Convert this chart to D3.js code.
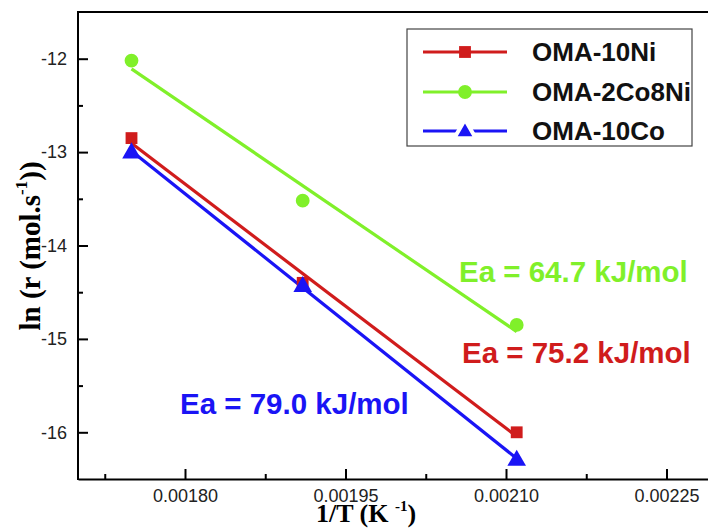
<!DOCTYPE html>
<html><head><meta charset="utf-8">
<script src="https://cdn.jsdelivr.net/npm/d3@7"></script>
<style>
body{margin:0;background:#fff;}
svg{display:block;}
</style></head>
<body>
<svg id="chart" width="708" height="530"></svg>
<script>
// ---- data ----
const seriesNames = ["OMA-10Ni", "OMA-2Co8Ni", "OMA-10Co"];
const invT = [0.00175, 0.00191, 0.00211];
const lnR_10Ni = [-12.85, -14.40, -16.00];
const lnR_2Co8Ni = [-12.02, -13.52, -14.85];
const lnR_10Co = [-13.00, -14.43, -16.29];
const eaLabels = ["Ea = 75.2 kJ/mol", "Ea = 64.7 kJ/mol", "Ea = 79.0 kJ/mol"];
const xMajorTicks = [0.00180, 0.00195, 0.00210, 0.00225];
const xMinorTicks = [0.001725, 0.001875, 0.002025, 0.002175];
const yMajorTicks = [-12, -13, -14, -15, -16];
const yMinorTicks = [-12.5, -13.5, -14.5, -15.5];

const colors = ["#d01c1c", "#80f02a", "#1a14f5"];
const symbols = [d3.symbolSquare, d3.symbolCircle, d3.symbolTriangle];
const symSizes = [140, 150, 150];
const allY = [lnR_10Ni, lnR_2Co8Ni, lnR_10Co];

const svg = d3.select("#chart");
const L = 78, T = 12, B = 479;
const x = d3.scaleLinear().domain([0.0017, 0.0023]).range([L, 720]);
const y = d3.scaleLinear().domain([-16.5, -11.5]).range([B, T]);

// axes
const fmtX = d3.format(".5f");
const fmtY = v => String(v);
const gx = svg.append("g").attr("transform", `translate(0,${B})`)
  .call(d3.axisBottom(x).tickValues(xMajorTicks).tickFormat(fmtX).tickSizeInner(-10).tickSizeOuter(0).tickPadding(10));
gx.append("g").call(d3.axisBottom(x).tickValues(xMinorTicks).tickFormat("").tickSizeInner(-5).tickSizeOuter(0))
  .select(".domain").remove();
const gy = svg.append("g").attr("transform", `translate(${L},0)`)
  .call(d3.axisLeft(y).tickValues(yMajorTicks).tickFormat(fmtY).tickSizeInner(-10).tickSizeOuter(0).tickPadding(11));
gy.append("g").call(d3.axisLeft(y).tickValues(yMinorTicks).tickFormat("").tickSizeInner(-5).tickSizeOuter(0))
  .select(".domain").remove();
[gx, gy].forEach(g => {
  g.selectAll(".domain, line").attr("stroke", "#000").attr("stroke-width", 2);
  g.selectAll("text").attr("font-family", "Liberation Sans, Arial, sans-serif").attr("font-size", 18).attr("fill", "#222");
});
svg.append("line").attr("x1", L - 1).attr("x2", 720).attr("y1", T).attr("y2", T).attr("stroke", "#000").attr("stroke-width", 2);
gy.select(".domain").attr("d", `M0,${T}V${B + 1}`);

// fits and points
allY.forEach((ys, i) => {
  const n = invT.length;
  const mx = d3.mean(invT), my = d3.mean(ys);
  let sxy = 0, sxx = 0;
  for (let k = 0; k < n; k++) { sxy += (invT[k] - mx) * (ys[k] - my); sxx += (invT[k] - mx) ** 2; }
  const slope = sxy / sxx, icpt = my - slope * mx;
  const x0 = d3.min(invT), x1 = d3.max(invT);
  svg.append("line")
    .attr("x1", x(x0)).attr("y1", y(slope * x0 + icpt))
    .attr("x2", x(x1)).attr("y2", y(slope * x1 + icpt))
    .attr("stroke", colors[i]).attr("stroke-width", 3.2);
});
allY.forEach((ys, i) => {
  svg.append("g").selectAll("path").data(invT.map((v, k) => [v, ys[k]])).join("path")
    .attr("transform", d => `translate(${x(d[0])},${y(d[1]) + (i === 2 ? 1 : 0)})`)
    .attr("d", d3.symbol(symbols[i], symSizes[i]))
    .attr("fill", colors[i]);
});

// Ea annotations
const eaPos = [[462, 363], [459, 282], [180, 414]];
eaLabels.forEach((t, i) => {
  svg.append("text").attr("x", eaPos[i][0]).attr("y", eaPos[i][1]).text(t)
    .attr("font-family", "Liberation Sans, Arial, sans-serif").attr("font-weight", "bold")
    .attr("font-size", 29.5).attr("fill", colors[i]);
});

// legend
const lg = svg.append("g");
lg.append("rect").attr("x", 407).attr("y", 29).attr("width", 285).attr("height", 117)
  .attr("fill", "#fff").attr("stroke", "#444").attr("stroke-width", 1.2);
const legY = [52, 92, 131];
seriesNames.forEach((s, i) => {
  lg.append("line").attr("x1", 423).attr("x2", 507).attr("y1", legY[i]).attr("y2", legY[i])
    .attr("stroke", colors[i]).attr("stroke-width", 3.2);
  lg.append("path").attr("transform", `translate(465,${legY[i] + (i === 2 ? 1 : 0)})`)
    .attr("d", d3.symbol(symbols[i], i === 2 ? 200 : symSizes[i])).attr("fill", colors[i])
    .attr("stroke", "#fff").attr("stroke-width", i === 2 ? 4 : 0);
  lg.append("text").attr("x", 532).attr("y", legY[i] + 9).text(s)
    .attr("font-family", "Liberation Sans, Arial, sans-serif").attr("font-weight", "bold")
    .attr("font-size", 26).attr("fill", "#111");
});

// axis titles
const serif = "Liberation Serif, Times New Roman, serif";
const xt = svg.append("text").attr("x", 366).attr("y", 522).attr("text-anchor", "middle")
  .attr("font-family", serif).attr("font-weight", "bold").attr("font-size", 26);
xt.append("tspan").text("1/T (K ");
xt.append("tspan").text("-1").attr("font-size", 15).attr("dy", -11);
xt.append("tspan").text(")").attr("dy", 11);

const yt = svg.append("text").attr("transform", "translate(40,246) rotate(-90)").attr("text-anchor", "middle")
  .attr("font-family", serif).attr("font-weight", "bold").attr("font-size", 29);
yt.append("tspan").text("ln (r (mol.s");
yt.append("tspan").text("-1").attr("font-size", 17).attr("dy", -13);
yt.append("tspan").text("))").attr("dy", 13);
</script>
</body></html>
